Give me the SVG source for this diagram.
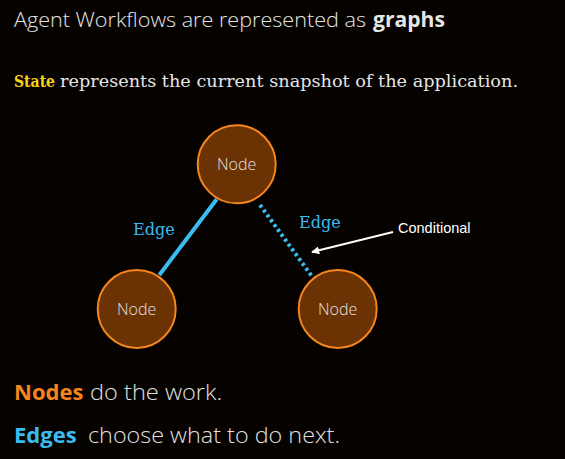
<svg xmlns="http://www.w3.org/2000/svg" width="565" height="459" viewBox="0 0 565 459">
<defs>
<style>
.bg{fill:#050200}
.title{font-family:"Open Sans","Noto Sans",sans-serif;font-weight:300;font-size:21px;fill:#e6e6e6}
.slab{font-family:"DejaVu Serif","Liberation Serif",serif;font-size:16px;fill:#e6e6e6}
.node circle{fill:#6b3203;stroke:#f5861e;stroke-width:2}
.node text{font-family:"Open Sans","Noto Sans",sans-serif;font-weight:300;font-size:16px;fill:#e0e0e0;text-anchor:middle}
.elabel{font-family:"DejaVu Serif","Liberation Serif",serif;font-size:16px;fill:#3cbbf0}
.big{font-family:"Open Sans","Noto Sans",sans-serif;font-weight:300;font-size:22px;fill:#e0e0e0}
.bold{font-weight:700}
</style>
<marker id="ah" viewBox="0 0 10 10" refX="9" refY="5" markerWidth="8" markerHeight="8" orient="auto" markerUnits="userSpaceOnUse">
<path d="M0,0 L10,5 L0,10 Z" fill="#ffffff"/>
</marker>
</defs>
<rect class="bg" width="565" height="459"/>
<text class="title" x="14" y="27" textLength="352" lengthAdjust="spacingAndGlyphs">Agent Workflows are represented as</text>
<text class="title bold" x="373" y="27" style="font-size:21.5px" textLength="72" lengthAdjust="spacingAndGlyphs">graphs</text>
<text class="slab bold" x="14" y="87" style="fill:#f7d414" textLength="41" lengthAdjust="spacingAndGlyphs">State</text>
<text class="slab" x="60" y="87" textLength="458" lengthAdjust="spacingAndGlyphs">represents the current snapshot of the application.</text>
<g id="connectors">
<line x1="216.7" y1="199.3" x2="159.3" y2="275" stroke="#3cbbf0" stroke-width="4"/>
<line x1="260" y1="205" x2="311.7" y2="276" stroke="#3cbbf0" stroke-width="4" stroke-dasharray="3,3"/>
<line x1="393" y1="232" x2="312" y2="252" stroke="#ffffff" stroke-width="2" marker-end="url(#ah)"/>
<text class="elabel" x="133" y="235">Edge</text>
<text class="elabel" x="299" y="228">Edge</text>
<text x="398" y="233" font-family="Liberation Sans, Arial, sans-serif" font-size="14.5" fill="#ffffff">Conditional</text>
</g>
<g id="node-top" class="node"><circle cx="236.7" cy="164.3" r="39"/><text x="236.7" y="170">Node</text></g>
<g id="node-left" class="node"><circle cx="136.7" cy="309" r="39"/><text x="136.7" y="315">Node</text></g>
<g id="node-right" class="node"><circle cx="337.7" cy="309" r="39"/><text x="337.7" y="315">Node</text></g>
<text class="big bold" x="14" y="400" style="fill:#f5861e">Nodes</text>
<text class="big" x="90" y="400" textLength="132" lengthAdjust="spacingAndGlyphs">do the work.</text>
<text class="big bold" x="14" y="443" style="fill:#3cbbf0">Edges</text>
<text class="big" x="88" y="443" textLength="252" lengthAdjust="spacingAndGlyphs">choose what to do next.</text>
</svg>
